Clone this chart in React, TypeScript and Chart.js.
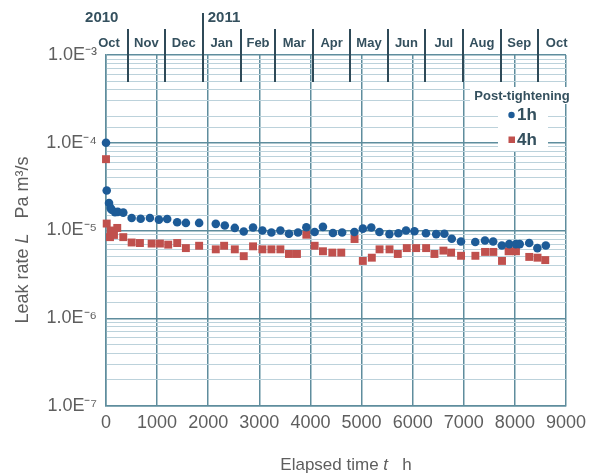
import React, { useEffect, useRef } from "react";
import { Chart, registerables } from "chart.js";

Chart.register(...registerables);

// ---- Data (elapsed hours / leak rate Pa m3/s) ----
const oneHourT = [0, 14, 59, 90, 111, 176, 230, 338, 502, 678, 859, 1035, 1197, 1393, 1563, 1822, 2148, 2324, 2520, 2695, 2877, 3060, 3236, 3412, 3580, 3756, 3920, 4082, 4244, 4440, 4620, 4860, 5025, 5190, 5350, 5545, 5720, 5870, 6035, 6260, 6460, 6620, 6765, 6945, 7225, 7415, 7575, 7745, 7890, 8020, 8095, 8280, 8440, 8605];
const oneHourL = [1.0e-4, 2.86e-5, 2.06e-5, 1.8e-5, 1.72e-5, 1.62e-5, 1.63e-5, 1.6e-5, 1.39e-5, 1.36e-5, 1.39e-5, 1.33e-5, 1.35e-5, 1.24e-5, 1.22e-5, 1.22e-5, 1.19e-5, 1.14e-5, 1.07e-5, 9.75e-6, 1.08e-5, 1.0e-5, 9.5e-6, 1.0e-5, 9.2e-6, 9.5e-6, 1.09e-5, 9.6e-6, 1.1e-5, 9.35e-6, 9.5e-6, 9.6e-6, 1.05e-5, 1.08e-5, 9.6e-6, 9.1e-6, 9.3e-6, 1.0e-5, 9.8e-6, 9.3e-6, 9.1e-6, 9.2e-6, 8.05e-6, 7.5e-6, 7.4e-6, 7.7e-6, 7.5e-6, 6.75e-6, 7.0e-6, 7.0e-6, 7.0e-6, 7.2e-6, 6.3e-6, 6.75e-6];

const fourHourT = [0, 14, 78, 92, 156, 220, 338, 502, 664, 893, 1055, 1217, 1393, 1563, 1822, 2148, 2311, 2520, 2695, 2877, 3060, 3236, 3412, 3580, 3736, 3920, 4082, 4245, 4428, 4603, 4863, 5025, 5201, 5352, 5547, 5709, 5885, 6068, 6263, 6426, 6602, 6752, 6947, 7227, 7416, 7578, 7748, 7877, 8021, 8281, 8443, 8594];
const fourHourL = [6.5e-5, 1.2e-5, 8.4e-6, 1.0e-5, 8.9e-6, 1.07e-5, 8.4e-6, 7.3e-6, 7.2e-6, 7.1e-6, 7.1e-6, 6.9e-6, 7.2e-6, 6.3e-6, 6.7e-6, 6.1e-6, 6.7e-6, 6.1e-6, 5.1e-6, 6.6e-6, 6.1e-6, 6.1e-6, 6.1e-6, 5.4e-6, 5.4e-6, 8.95e-6, 6.7e-6, 5.8e-6, 5.6e-6, 5.6e-6, 8.0e-6, 4.5e-6, 4.9e-6, 6.1e-6, 6.1e-6, 5.4e-6, 6.3e-6, 6.3e-6, 6.3e-6, 5.4e-6, 5.9e-6, 5.6e-6, 5.15e-6, 5.15e-6, 5.7e-6, 5.7e-6, 4.5e-6, 5.8e-6, 5.8e-6, 5.0e-6, 4.9e-6, 4.6e-6];

const seriesLabels = ["1h", "4h"];
const legendTitle = "Post-tightening";

const yDecades = [1e-7, 1e-6, 1e-5, 1e-4, 1e-3];
const yTickLabels = ["1.0E\u207B\u2077", "1.0E\u207B\u2076", "1.0E\u207B\u2075", "1.0E\u207B\u2074", "1.0E\u207B\u00B3"];

const monthLabels = ["Oct", "Nov", "Dec", "Jan", "Feb", "Mar", "Apr", "May", "Jun", "Jul", "Aug", "Sep", "Oct"];
const monthBoundaryHours = [-314, 430, 1150, 1894, 2638, 3310, 4054, 4774, 5518, 6238, 6982, 7726, 8446, 9190];
const yearLabels = ["2010", "2011"];
const yearLabelHours = [-410, 1990];
const yearBoundaryHour = 1894;

const xTitleParts = [
  { text: "Elapsed time ", italic: false },
  { text: "t", italic: true },
  { text: "   h", italic: false },
];
const yTitleParts = [
  { text: "Leak rate ", italic: false },
  { text: "L", italic: true },
  { text: "   Pa m\u00B3/s", italic: false },
];

// ---- Styles ----
const BLUE = "#1d5b97";
const RED = "#c0504d";
const GRID_MAJOR = "#5f8d9d";
const GRID_MINOR = "#bcd2db";
const TEXT = "#5e5e5e";
const DARK = "#34505e";
const FONT = "'Liberation Sans', Arial, sans-serif";

function drawParts(ctx: CanvasRenderingContext2D, parts: { text: string; italic: boolean }[], cx: number, cy: number, size: number) {
  const fontFor = (it: boolean) => `${it ? "italic " : ""}${size}px ${FONT}`;
  let total = 0;
  const widths = parts.map((p) => {
    ctx.font = fontFor(p.italic);
    const w = ctx.measureText(p.text).width;
    total += w;
    return w;
  });
  let x = cx - total / 2;
  ctx.textBaseline = "middle";
  ctx.textAlign = "left";
  parts.forEach((p, i) => {
    ctx.font = fontFor(p.italic);
    ctx.fillText(p.text, x, cy);
    x += widths[i];
  });
}

const overlayPlugin = {
  id: "overlay",
  afterDraw(chart: any) {
    const ctx: CanvasRenderingContext2D = chart.ctx;
    const xs = chart.scales.x;
    const area = chart.chartArea;
    ctx.save();

    // Month separators
    ctx.strokeStyle = "#2f4a58";
    ctx.lineWidth = 2;
    for (let i = 1; i < monthBoundaryHours.length - 1; i++) {
      const h = monthBoundaryHours[i];
      const px = Math.round(xs.getPixelForValue(h));
      const top = h === yearBoundaryHour ? 13 : 29;
      ctx.beginPath();
      ctx.moveTo(px, top);
      ctx.lineTo(px, area.top + 27);
      ctx.stroke();
    }
    // Month labels
    ctx.fillStyle = DARK;
    ctx.font = `bold 13px ${FONT}`;
    ctx.textAlign = "center";
    ctx.textBaseline = "middle";
    for (let i = 0; i < monthLabels.length; i++) {
      const a = xs.getPixelForValue(monthBoundaryHours[i]);
      const b = xs.getPixelForValue(monthBoundaryHours[i + 1]);
      ctx.fillText(monthLabels[i], (a + b) / 2, 43);
    }
    // Year labels
    ctx.font = `bold 15px ${FONT}`;
    ctx.textAlign = "left";
    yearLabels.forEach((y, i) => {
      ctx.fillText(y, xs.getPixelForValue(yearLabelHours[i]), 18);
    });

    // Legend
    ctx.fillStyle = "#ffffff";
    ctx.fillRect(470, 87, 103, 17);
    ctx.fillRect(498, 104, 50, 47);
    ctx.fillStyle = DARK;
    ctx.font = `bold 13px ${FONT}`;
    ctx.textAlign = "center";
    ctx.fillText(legendTitle, 522, 96);
    const ds = chart.data.datasets;
    ctx.fillStyle = ds[0].backgroundColor;
    ctx.beginPath();
    ctx.arc(511.5, 115, 3.2, 0, Math.PI * 2);
    ctx.fill();
    ctx.fillStyle = ds[1].backgroundColor;
    ctx.fillRect(508.5, 136.5, 6.5, 6.5);
    ctx.fillStyle = DARK;
    ctx.font = `bold 17px ${FONT}`;
    ctx.textAlign = "left";
    ctx.fillText(seriesLabels[0], 517, 115);
    ctx.fillText(seriesLabels[1], 517, 140);

    // Axis titles
    ctx.fillStyle = TEXT;
    drawParts(ctx, xTitleParts, 346, 465, 17);
    ctx.translate(23, 240);
    ctx.rotate(-Math.PI / 2);
    drawParts(ctx, yTitleParts, 0, 0, 18);
    ctx.restore();
  },
};

const isDecade = (v: number) => {
  const l = Math.log10(v);
  return Math.abs(l - Math.round(l)) < 1e-6;
};

export default function App() {
  const ref = useRef<HTMLCanvasElement>(null);
  useEffect(() => {
    const canvas = ref.current;
    if (!canvas) return;
    const chart = new Chart(canvas, {
      type: "scatter",
      data: {
        datasets: [
          {
            label: seriesLabels[0],
            data: oneHourT.map((t, i) => ({ x: t, y: oneHourL[i] })),
            pointStyle: "circle",
            pointRadius: 4.3,
            backgroundColor: BLUE,
            borderColor: BLUE,
            borderWidth: 0,
            clip: false,
          },
          {
            label: seriesLabels[1],
            data: fourHourT.map((t, i) => ({ x: t, y: fourHourL[i] })),
            pointStyle: "rect",
            pointRadius: 5.6,
            backgroundColor: RED,
            borderColor: RED,
            borderWidth: 0,
            clip: false,
          },
        ],
      },
      options: {
        responsive: false,
        animation: false,
        layout: { padding: { top: 55, right: 36, left: 0, bottom: 0 } },
        plugins: { legend: { display: false }, tooltip: { enabled: false } },
        scales: {
          x: {
            type: "linear",
            min: 0,
            max: 9000,
            afterFit: (s: any) => {
              s.height = 69;
            },
            ticks: {
              stepSize: 1000,
              autoSkip: false,
              maxRotation: 0,
              padding: 6,
              color: TEXT,
              font: { family: FONT, size: 18 },
              callback: (v: any) => String(v),
            },
            grid: { color: GRID_MAJOR, lineWidth: 1.5, drawTicks: false },
            border: { color: GRID_MAJOR, width: 1.5 },
          },
          y: {
            type: "logarithmic",
            min: 1e-7,
            max: 1e-3,
            afterFit: (s: any) => {
              s.width = 106;
            },
            ticks: {
              autoSkip: false,
              padding: 9,
              color: TEXT,
              font: { family: FONT, size: 18 },
              callback: (v: any) => {
                const val = Number(v);
                const idx = yDecades.findIndex((d) => Math.abs(val / d - 1) < 1e-6);
                return idx >= 0 ? yTickLabels[idx] : "";
              },
            },
            grid: {
              drawTicks: false,
              color: (c: any) => (c.tick && isDecade(c.tick.value) ? GRID_MAJOR : GRID_MINOR),
              lineWidth: (c: any) => (c.tick && isDecade(c.tick.value) ? 1.5 : 1),
            },
            border: { color: GRID_MAJOR, width: 1.5 },
          },
        },
      },
      plugins: [overlayPlugin],
    });
    return () => chart.destroy();
  }, []);
  return (
    <div style={{ position: "absolute", left: 0, top: 0, width: 602, height: 475, background: "#ffffff" }}>
      <canvas ref={ref} width={602} height={475} style={{ display: "block" }} />
    </div>
  );
}
